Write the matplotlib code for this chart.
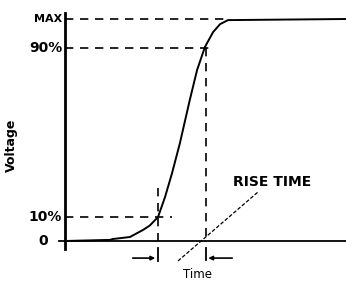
import matplotlib
matplotlib.use("Agg")
import matplotlib.pyplot as plt

# step response (time in arbitrary units, voltage as fraction of MAX)
time = [0, 16.0, 17.1, 23.1, 27.8, 30.2, 33.1, 35.6, 38.1, 40.9, 42.7, 44.5, 47.0, 49.8, 52.7, 55.2, 58.0, 100]
voltage = [0, 0.005, 0.009, 0.018, 0.050, 0.070, 0.108, 0.198, 0.306, 0.441, 0.541, 0.640, 0.770, 0.874, 0.941, 0.977, 0.995, 1.0]

level_values = [0, 0.11, 0.87, 1.0]
level_labels = ["0", "10%", "90%", "MAX"]
t10 = 33.1
t90 = 50.0

fig = plt.figure(figsize=(3.46, 2.81), dpi=100)
ax = fig.add_axes([65 / 346, 40 / 281, 281 / 346, 222 / 281])
ax.set_xlim(0, 100)
ax.set_ylim(0, 1)
ax.axis("off")

# axes lines
ax.plot([0, 0], [-0.035, 1.025], color="black", lw=2.0, clip_on=False)
ax.plot([-2, 100], [0, 0], color="black", lw=1.3, clip_on=False)

# curve
ax.plot(time, voltage, color="black", lw=1.4, clip_on=False)

# dashed reference levels
dash = dict(color="black", lw=1.2, linestyle=(0, (5, 4)), clip_on=False)
ax.plot([0, 38], [level_values[1]] * 2, **dash)
ax.plot([0, 52], [level_values[2]] * 2, **dash)
ax.plot([0, 58], [level_values[3]] * 2, **dash)
ax.plot([t10, t10], [0.24, 0.0], **dash)
ax.plot([t90, t90], [level_values[2], 0.0], **dash)

# level labels
for v, lab in zip(level_values, level_labels):
    xpos = -6 if lab == "0" else -1
    fs = 8 if lab == "MAX" else 10
    ax.text(xpos, v, lab, ha="right", va="center", fontsize=fs, fontweight="bold", clip_on=False)

# rise time dimension marks
ax.plot([t10, t10], [-0.032, -0.09], color="black", lw=1.3, clip_on=False)
ax.plot([t90, t90], [-0.032, -0.086], color="black", lw=1.3, clip_on=False)
ax.annotate("", xy=(t10, -0.077), xytext=(23.1, -0.077), annotation_clip=False,
            arrowprops=dict(arrowstyle="-|>", color="black", lw=1.2, mutation_scale=6))
ax.annotate("", xy=(t90, -0.077), xytext=(60.5, -0.077), annotation_clip=False,
            arrowprops=dict(arrowstyle="-|>", color="black", lw=1.2, mutation_scale=6))

# leader line to the label
ax.plot([40.2, 68.7], [-0.09, 0.221], color="black", lw=0.9, linestyle=(0, (3, 1.5)), clip_on=False)
ax.text(59.8, 0.266, "RISE TIME", ha="left", va="center", fontsize=10, fontweight="bold")

ax.text(47, -0.149, "Time", ha="center", va="center", fontsize=8.5)
ax.text(-19, 0.43, "Voltage", ha="center", va="center", rotation=90, fontsize=9, fontweight="bold")

plt.savefig("out.png", dpi=100)
